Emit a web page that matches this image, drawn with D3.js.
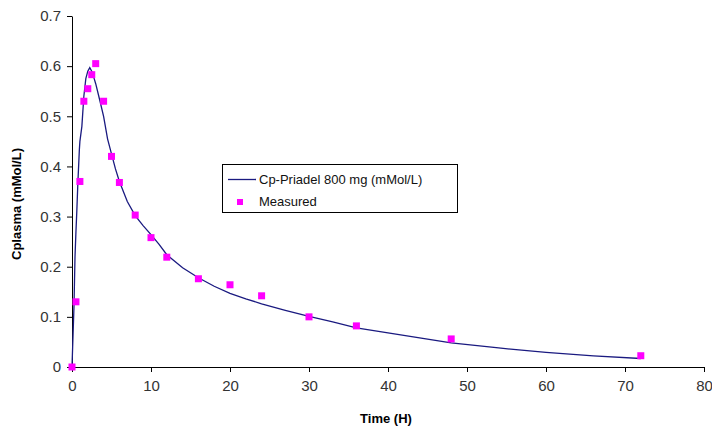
<!DOCTYPE html>
<html>
<head>
<meta charset="utf-8">
<script src="https://cdn.jsdelivr.net/npm/d3@7"></script>
<style>
  body { margin: 0; background: #fff; }
  svg { display: block; font-family: "Liberation Sans", Arial, sans-serif; }
</style>
</head>
<body>
<div id="chart"></div>
<script>
// model curve (Cp-Priadel 800 mg)
var curveTime = [0, 0.25, 0.38, 0.5, 0.6, 0.75, 0.93, 1, 1.25, 1.5, 1.75, 2, 2.25, 2.5, 2.75, 3, 3.5, 4, 4.5, 5, 5.5, 6, 7, 8, 9, 10, 11, 12, 14, 16, 18, 20, 22, 24, 27, 30, 33, 36, 40, 44, 48, 54, 60, 66, 72];
var curveConc = [0, 0.12, 0.22, 0.27, 0.307, 0.37, 0.433, 0.45, 0.48, 0.54, 0.575, 0.59, 0.597, 0.59, 0.578, 0.565, 0.533, 0.5, 0.455, 0.425, 0.395, 0.37, 0.33, 0.302, 0.282, 0.264, 0.245, 0.224, 0.198, 0.178, 0.161, 0.147, 0.136, 0.126, 0.113, 0.101, 0.09, 0.078, 0.068, 0.058, 0.048, 0.038, 0.029, 0.022, 0.017];

// measured samples
var measTime = [0, 0.5, 1, 1.5, 2, 2.5, 3, 4, 5, 6, 8, 10, 12, 16, 20, 24, 30, 36, 48, 72];
var measConc = [0, 0.13, 0.37, 0.53, 0.555, 0.583, 0.605, 0.53, 0.42, 0.368, 0.303, 0.258, 0.219, 0.176, 0.164, 0.142, 0.1, 0.082, 0.056, 0.0225];

var xTicks = [0, 10, 20, 30, 40, 50, 60, 70, 80];
var yTicks = [0, 0.1, 0.2, 0.3, 0.4, 0.5, 0.6, 0.7];

var width = 712, height = 427;

var svg = d3.select("#chart").append("svg")
  .attr("width", width)
  .attr("height", height);

var x = d3.scaleLinear().domain([0, 80]).range([72, 704]);
var y = d3.scaleLinear().domain([0, 0.7]).range([367, 16]);

// axes
var xAxis = svg.append("g")
  .attr("transform", "translate(0," + y(0) + ")")
  .call(d3.axisBottom(x).tickValues(xTicks).tickSize(5).tickSizeOuter(0).tickPadding(8));

var yAxis = svg.append("g")
  .attr("transform", "translate(" + x(0) + ",0)")
  .call(d3.axisLeft(y).tickValues(yTicks).tickSize(5).tickSizeOuter(0).tickPadding(6)
    .tickFormat(function(d) { return d === 0 ? "0" : d3.format(".1f")(d); }));

[xAxis, yAxis].forEach(function(g) {
  g.select(".domain").attr("stroke", "#000");
  g.selectAll(".tick line").attr("stroke", "#000");
  g.selectAll(".tick text")
    .attr("fill", "#333")
    .style("font-size", "15px")
    .style("font-family", "'Liberation Sans', Arial, sans-serif");
});

// axis titles
svg.append("text")
  .attr("x", 386)
  .attr("y", 423)
  .attr("text-anchor", "middle")
  .style("font-size", "13px")
  .style("font-weight", "bold")
  .text("Time (H)");

svg.append("text")
  .attr("transform", "translate(21,204) rotate(-90)")
  .attr("text-anchor", "middle")
  .style("font-size", "13px")
  .style("font-weight", "bold")
  .text("Cplasma (mMol/L)");

// curve
var line = d3.line()
  .x(function(d, i) { return x(curveTime[i]); })
  .y(function(d) { return y(d); });

svg.append("path")
  .datum(curveConc)
  .attr("fill", "none")
  .attr("stroke", "#1a1a80")
  .attr("stroke-width", 1.3)
  .attr("d", line);

// measured points
svg.selectAll(".meas")
  .data(measConc)
  .enter().append("rect")
  .attr("class", "meas")
  .attr("x", function(d, i) { return x(measTime[i]) - 3.5; })
  .attr("y", function(d) { return y(d) - 3.5; })
  .attr("width", 7)
  .attr("height", 7)
  .attr("fill", "#ff00ff");

// legend
var legend = svg.append("g").attr("transform", "translate(222,164)");
legend.append("rect")
  .attr("x", 0.5).attr("y", 0.5)
  .attr("width", 235).attr("height", 48)
  .attr("fill", "#fff")
  .attr("stroke", "#000");
legend.append("line")
  .attr("x1", 6).attr("x2", 34)
  .attr("y1", 15.5).attr("y2", 15.5)
  .attr("stroke", "#1a1a80")
  .attr("stroke-width", 1.3);
legend.append("text")
  .attr("x", 37).attr("y", 20)
  .style("font-size", "13px")
  .attr("fill", "#111")
  .text("Cp-Priadel 800 mg (mMol/L)");
legend.append("rect")
  .attr("x", 15).attr("y", 35)
  .attr("width", 6).attr("height", 6)
  .attr("fill", "#ff00ff");
legend.append("text")
  .attr("x", 37).attr("y", 42)
  .style("font-size", "13px")
  .attr("fill", "#111")
  .text("Measured");
</script>
</body>
</html>
